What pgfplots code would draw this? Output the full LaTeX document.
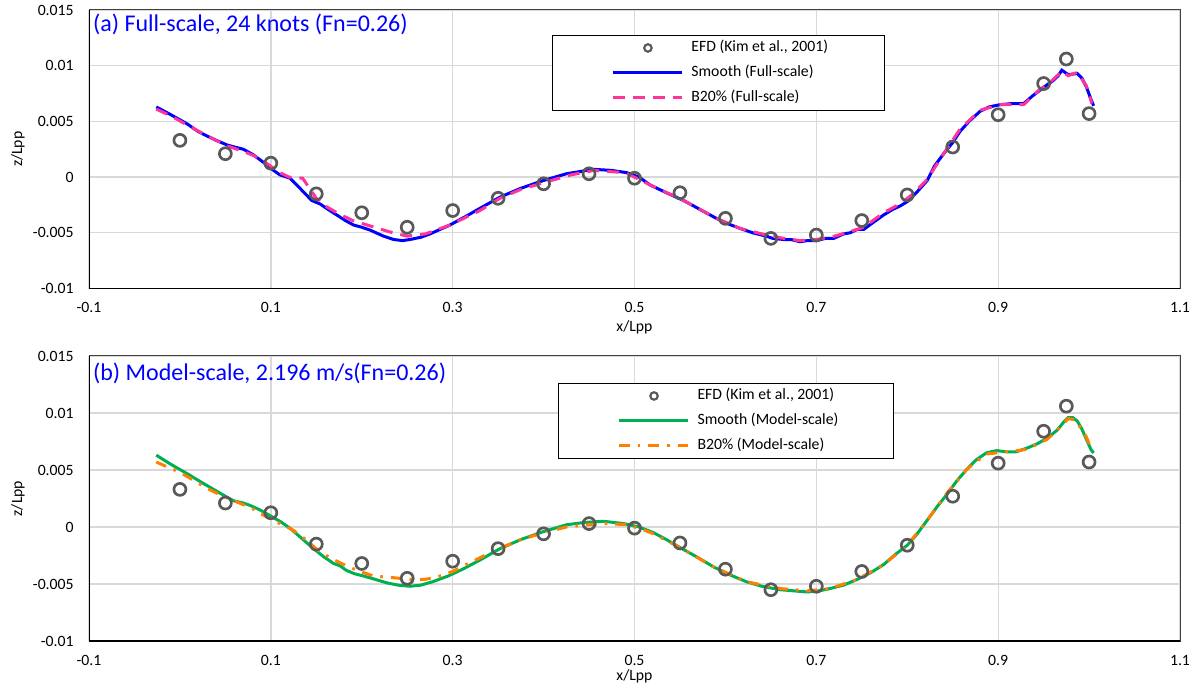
\documentclass[border=0pt]{standalone}
\usepackage{pgfplots}
\pgfplotsset{compat=1.18}
\usepackage{pgfplotstable}
\usepackage{fontspec}
\setmainfont{Carlito}
\definecolor{efdc}{HTML}{595959}
\definecolor{pinkc}{HTML}{FF3399}
\definecolor{greenc}{HTML}{00B050}
\definecolor{orangec}{HTML}{FF8000}
\definecolor{gridc}{HTML}{D9D9D9}

\pgfplotstableread{
x y
0 0.0033
0.05 0.0021
0.1 0.00125
0.15 -0.0015
0.2 -0.0032
0.25 -0.0045
0.3 -0.0030
0.35 -0.0019
0.4 -0.0006
0.45 0.0003
0.5 -0.0001
0.55 -0.0014
0.6 -0.0037
0.65 -0.0055
0.7 -0.0052
0.75 -0.0039
0.8 -0.0016
0.85 0.0027
0.9 0.0056
0.95 0.0084
0.975 0.0106
1.0 0.0057
}\efddata

\newcommand{\tfont}{\fontsize{11.8}{14}\selectfont}

\pgfplotsset{
  panel/.style={
    scale only axis, width=818.25pt,
    xmin=-0.1, xmax=1.1, ymin=-0.01, ymax=0.015,
    scaled y ticks=false, scaled x ticks=false,
    xtick={-0.1,0.1,0.3,0.5,0.7,0.9,1.1},
    xticklabels={-0.1,0.1,0.3,0.5,0.7,0.9,1.1},
    ytick={-0.01,-0.005,0,0.005,0.01,0.015},
    yticklabels={-0.01,-0.005,0,0.005,0.01,0.015},
    major tick length=0pt,
    grid=major,
    major grid style={draw=gridc, line width=1pt},
    axis line style={draw=black!75, line width=0.75pt},
    tick label style={font=\tfont, text=black},
    label style={font=\tfont},
    yticklabel style={xshift=-8pt},
    xticklabel style={yshift=-7pt},
    ylabel={z/Lpp}, xlabel={x/Lpp},
    ylabel style={at={(axis description cs:-0.0651,0.5)}, anchor=center},
    legend cell align=left,
    legend style={draw=black, line width=0.6pt, fill=white, inner sep=0pt,
      row sep=0pt, font=\tfont, anchor=north west,
      nodes={inner sep=0pt, text height=12pt, text depth=6.75pt}},
    efd/.style={only marks, mark=o, mark size=4.5pt,
      mark options={draw=efdc, line width=2pt},
      legend image code/.code={\path (0pt,0pt) (102pt,0pt);
        \draw[efdc, line width=1.6pt] (70.5pt,0pt) circle (2.8pt);}},
    lin/.style={mark=none, line width=2.25pt,
      legend image code/.code={\path (0pt,0pt) (102pt,0pt);
        \draw[##1] (44.25pt,0pt) -- (96pt,0pt);}},
  }
}

\begin{document}
\begin{tikzpicture}
\useasboundingbox (0,0) rectangle (899.25pt,-518.25pt);

% ---------------- panel (a)
\begin{axis}[panel, at={(66.75pt,-7.5pt)}, anchor=north west, height=208.9pt,
  xlabel style={at={(axis description cs:0.5,0)}, anchor=center, yshift=-28.9pt},
  legend style={at={(rel axis cs:0.4244,0.910)}}]
\addplot[efd] table[x=x,y=y] {\efddata};
\addlegendentry{\makebox[145pt][l]{EFD (Kim et al., 2001)}}
\addplot[lin, draw=blue] coordinates {
(-0.026,0.0063) (-0.01,0.0056) (0.0075,0.0048) (0.02,0.0041) (0.0295,0.0037) (0.04,0.0033)
(0.0515,0.0029) (0.06,0.0027) (0.0698,0.0025) (0.0808,0.0020) (0.0955,0.0011) (0.103,0.0006)
(0.110,0.0002) (0.121,-0.0001) (0.132,-0.0010) (0.145,-0.0021) (0.154,-0.0024) (0.163,-0.0029)
(0.1725,-0.0034) (0.182,-0.0039) (0.191,-0.0043) (0.2,-0.0045) (0.209,-0.00475) (0.224,-0.0053)
(0.235,-0.0056) (0.245,-0.0057) (0.253,-0.0056) (0.265,-0.0054) (0.275,-0.0051) (0.297,-0.0043)
(0.315,-0.0035) (0.330,-0.0028) (0.352,-0.0018) (0.375,-0.0010) (0.40,-0.0003) (0.425,0.0003)
(0.455,0.0007) (0.475,0.0006) (0.4915,0.0004) (0.505,0.0000) (0.517,-0.0007) (0.535,-0.0014)
(0.554,-0.0021) (0.572,-0.0029) (0.590,-0.0037) (0.603,-0.0042) (0.616,-0.0046) (0.63,-0.0050)
(0.645,-0.0053) (0.652,-0.0055) (0.664,-0.0056) (0.672,-0.0056) (0.682,-0.0058) (0.69,-0.0057)
(0.70,-0.0057) (0.71,-0.0055) (0.719,-0.0055) (0.73,-0.0051) (0.737,-0.0050) (0.745,-0.0047)
(0.752,-0.0047) (0.762,-0.0041) (0.774,-0.0034) (0.784,-0.0029) (0.792,-0.0026) (0.80,-0.0022)
(0.81,-0.0014) (0.822,-0.0003) (0.83,0.0010) (0.84,0.0021) (0.85,0.0031) (0.858,0.0041)
(0.868,0.0050) (0.880,0.0059) (0.89,0.0063) (0.902,0.0065) (0.915,0.0066) (0.928,0.0066)
(0.938,0.0073) (0.946,0.0078) (0.954,0.0083) (0.961,0.0087) (0.966,0.0091) (0.970,0.0096)
(0.977,0.0092) (0.987,0.0093) (0.992,0.0089) (0.997,0.0081) (1.002,0.0070) (1.005,0.0064)
};
\addlegendentry{Smooth (Full-scale)}
\addplot[lin, draw=pinkc, dash pattern=on 9pt off 6pt] coordinates {
(-0.026,0.0061) (-0.01,0.0055) (0.0075,0.0047) (0.03,0.0037) (0.052,0.0028) (0.07,0.0023)
(0.082,0.0019) (0.096,0.0012) (0.11,0.0004) (0.12,0.0000) (0.135,-0.0001) (0.15,-0.0019)
(0.16,-0.0026) (0.175,-0.0033) (0.19,-0.0039) (0.21,-0.0044) (0.23,-0.0049) (0.25,-0.0053)
(0.27,-0.0051) (0.297,-0.0043) (0.33,-0.0030) (0.352,-0.0019) (0.375,-0.0011) (0.40,-0.0005)
(0.43,0.0002) (0.455,0.0006) (0.49,0.0004) (0.517,-0.0007) (0.554,-0.0021) (0.59,-0.0037)
(0.616,-0.0046) (0.645,-0.0052) (0.664,-0.0055) (0.682,-0.0057) (0.70,-0.0056) (0.72,-0.0053)
(0.737,-0.0049) (0.752,-0.0045) (0.774,-0.0032) (0.792,-0.0024) (0.805,-0.0016) (0.822,-0.0002)
(0.84,0.0021) (0.858,0.0043) (0.88,0.0060) (0.902,0.0065) (0.928,0.0065) (0.946,0.0079)
(0.954,0.0083) (0.961,0.0088) (0.970,0.0095) (0.977,0.0091) (0.987,0.0094) (0.997,0.0082)
(1.003,0.0066)
};
\addlegendentry{B20\% (Full-scale)}
\draw[black, line width=1.5pt] (rel axis cs:0,1) -- (rel axis cs:0,0) -- (rel axis cs:1,0);
\node[anchor=west, text=blue, font=\fontsize{18}{21}\selectfont, inner sep=0pt]
  at (rel axis cs:0.0035,0.95) {(a) Full-scale, 24 knots (Fn=0.26)};
\end{axis}

% ---------------- panel (b)
\begin{axis}[panel, at={(66.75pt,-267pt)}, anchor=north west, height=213.75pt,
  xlabel style={at={(axis description cs:0.5,0)}, anchor=center, yshift=-26.6pt},
  legend style={at={(rel axis cs:0.430,0.905)}}]
\addplot[efd] table[x=x,y=y] {\efddata};
\addlegendentry{\makebox[147pt][l]{EFD (Kim et al., 2001)}}
\addplot[lin, draw=greenc] coordinates {
(-0.026,0.0063) (-0.01,0.0055) (0.0075,0.0047) (0.022,0.0040) (0.037,0.0033) (0.05,0.0027)
(0.059,0.0023) (0.07,0.0021) (0.077,0.0019) (0.088,0.0015) (0.099,0.0010) (0.11,0.0005)
(0.121,-0.0001) (0.134,-0.0010) (0.147,-0.0019) (0.158,-0.0026) (0.169,-0.0032) (0.176,-0.0034)
(0.183,-0.0038) (0.192,-0.0041) (0.202,-0.0043) (0.215,-0.0046) (0.2275,-0.0049) (0.24,-0.0051)
(0.253,-0.0052) (0.265,-0.0051) (0.278,-0.0048) (0.295,-0.0043) (0.311,-0.0037) (0.33,-0.0029)
(0.352,-0.0019) (0.375,-0.0011) (0.40,-0.0004) (0.4255,0.0002) (0.445,0.0004) (0.466,0.0005)
(0.488,0.0003) (0.505,0.0000) (0.521,-0.0005) (0.535,-0.0011) (0.55,-0.0018) (0.568,-0.0026)
(0.587,-0.0035) (0.605,-0.0042) (0.623,-0.0048) (0.64,-0.0052) (0.66,-0.0055) (0.675,-0.0056)
(0.69,-0.0057) (0.703,-0.0056) (0.715,-0.0054) (0.73,-0.0051) (0.745,-0.0046) (0.76,-0.0040)
(0.774,-0.0033) (0.787,-0.0024) (0.80,-0.0016) (0.81,-0.0007) (0.822,0.0006) (0.833,0.0018)
(0.844,0.0029) (0.855,0.0041) (0.866,0.0051) (0.876,0.0059) (0.887,0.0065) (0.898,0.0067)
(0.909,0.0066) (0.92,0.0066) (0.931,0.0069) (0.943,0.0073) (0.954,0.0078) (0.965,0.0085)
(0.972,0.0092) (0.977,0.0096) (0.982,0.0096) (0.987,0.0093) (0.992,0.0086) (0.997,0.0077)
(1.002,0.0068) (1.005,0.0065)
};
\addlegendentry{Smooth (Model-scale)}
\addplot[lin, draw=orangec, dash pattern=on 8pt off 6pt on 2pt off 6pt] coordinates {
(-0.026,0.0057) (-0.012,0.0052) (0.0,0.0048) (0.015,0.0041) (0.0295,0.0034) (0.045,0.0028)
(0.0625,0.0022) (0.08,0.0016) (0.095,0.0009) (0.11,0.0003) (0.125,-0.0003) (0.14,-0.0012)
(0.154,-0.0022) (0.17,-0.0029) (0.183,-0.0034) (0.198,-0.0039) (0.213,-0.0043) (0.228,-0.0044)
(0.242,-0.0045) (0.255,-0.0046) (0.268,-0.0046) (0.277,-0.0045) (0.286,-0.0043) (0.3,-0.0039)
(0.312,-0.0034) (0.33,-0.0027) (0.348,-0.0020) (0.375,-0.0011) (0.40,-0.0005) (0.425,0.0000)
(0.45,0.0002) (0.47,0.0003) (0.49,0.0002) (0.505,-0.0001) (0.521,-0.0006) (0.55,-0.0018)
(0.587,-0.0035) (0.623,-0.0048) (0.66,-0.0054) (0.69,-0.0056) (0.715,-0.0054) (0.745,-0.0046)
(0.774,-0.0033) (0.80,-0.0016) (0.822,0.0006) (0.844,0.0030) (0.866,0.0051) (0.887,0.0064)
(0.909,0.0066) (0.931,0.0068) (0.954,0.0077) (0.965,0.0085) (0.977,0.0095) (0.985,0.0094)
(0.997,0.0079) (1.003,0.0067)
};
\addlegendentry{B20\% (Model-scale)}
\draw[black, line width=1.5pt] (rel axis cs:0,1) -- (rel axis cs:0,0) -- (rel axis cs:1,0);
\node[anchor=west, text=blue, font=\fontsize{18}{21}\selectfont, inner sep=0pt]
  at (rel axis cs:0.0035,0.94) {(b) Model-scale, 2.196 m/s(Fn=0.26)};
\end{axis}
\end{tikzpicture}
\end{document}
